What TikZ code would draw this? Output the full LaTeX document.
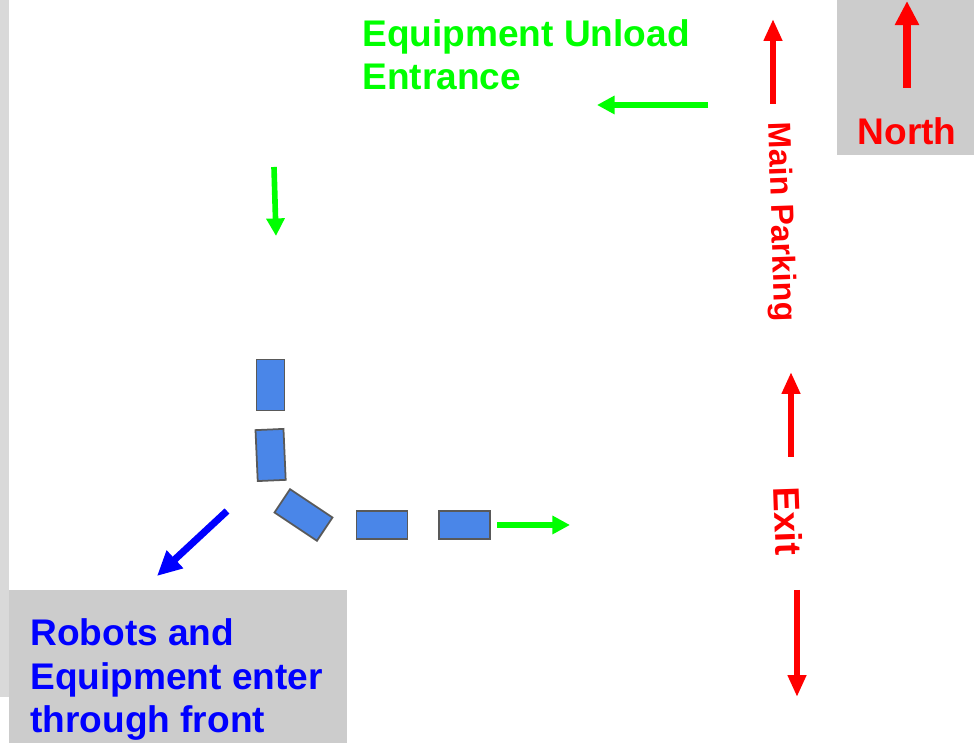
\documentclass[tikz,border=0pt]{standalone}
\usepackage{fontspec}
\setmainfont{Liberation Sans}
\usepackage{xcolor}
\usetikzlibrary{arrows.meta}
\definecolor{panelgrey}{HTML}{CCCCCC}
\definecolor{stripgrey}{HTML}{D9D9D9}
\definecolor{tableblue}{HTML}{4A86E8}
\definecolor{tableedge}{HTML}{595959}
\definecolor{signgreen}{HTML}{00FF00}

\begin{document}
\begin{tikzpicture}[x=0.02cm,y=0.02cm,
    sign/.style={font=\fontsize{21.1}{25}\selectfont\bfseries, inner sep=0pt},
    tablev/.style={draw=tableedge, fill=tableblue, line width=1pt, inner sep=0pt,
        minimum width=0.56cm, minimum height=1.02cm},
    tableh/.style={tablev, minimum width=1.02cm, minimum height=0.56cm},
    redarrow/.style={draw=red, line width=3.4pt, -{Triangle[length=12.5pt,width=10pt]}},
    greenarrow/.style={draw=signgreen, line width=3.2pt, -{Triangle[length=10pt,width=10pt]}},
    bluearrow/.style={draw=blue, line width=4pt, -{Triangle[length=14pt,width=13pt]}}]
        \useasboundingbox (0,0) rectangle (974,743);
        \fill[white] (0,0) rectangle (974,743);

        % Grey panels
        \fill[stripgrey] (0,46) rectangle (9,743);
        \fill[panelgrey] (9,0) rectangle (347,153);
        \fill[panelgrey] (837,588) rectangle (974,743);

        % North marker
        \coordinate (nA) at (907,655);
        \coordinate (nB) at (907,742);
        \draw[redarrow, line width=4.5pt, -{Triangle[length=13.7pt,width=13pt]}] (nA) -- (nB);
        \node[sign, text=red, anchor=base] (north) at (907,598) {North};

        % Tables
        \node[tablev] (t1) at (270.5,358) {};
        \node[tablev, rotate=2.5] (t2) at (270.6,288) {};
        \node[tableh, rotate=-33.7] (t3) at (303.5,228) {};
        \node[tableh] (t4) at (382,218) {};
        \node[tableh] (t5) at (464.5,218) {};

        % Equipment route
        \node[sign, text=signgreen, align=left, anchor=base west] (unload) at (362,653) {Equipment Unload\\Entrance};
        \coordinate (gA) at (708,638);
        \coordinate (gB) at (597,638);
        \coordinate (gC) at (274,576);
        \coordinate (gD) at (276,507);
        \coordinate (gE) at (497,218);
        \coordinate (gF) at (570,218);
        \draw[greenarrow] (gA) -- (gB);
        \draw[greenarrow] (gC) -- (gD);
        \draw[greenarrow] (gE) -- (gF);

        % Front entrance
        \coordinate (bA) at (227,232);
        \coordinate (bB) at (157,167);
        \draw[bluearrow] (bA) -- (bB);
        \node[sign, text=blue, align=left, anchor=base west] (front) at (30,10) {Robots and\\Equipment enter\\through front};

        % Parking side
        \coordinate (rA) at (773,639);
        \coordinate (rB) at (773,724);
        \coordinate (rC) at (791,286);
        \coordinate (rD) at (791,371);
        \coordinate (rE) at (797,153);
        \coordinate (rF) at (797,46);
        \draw[redarrow] (rA) -- (rB);
        \draw[redarrow] (rC) -- (rD);
        \draw[redarrow] (rE) -- (rF);
        \node[sign, text=red, rotate=-88, font=\fontsize{18.2}{22}\selectfont\bfseries] (parking) at (780,521) {Main Parking};
        \node[sign, text=red, rotate=-88] (exit) at (788,222) {Exit};
    \end{tikzpicture}
\end{document}
